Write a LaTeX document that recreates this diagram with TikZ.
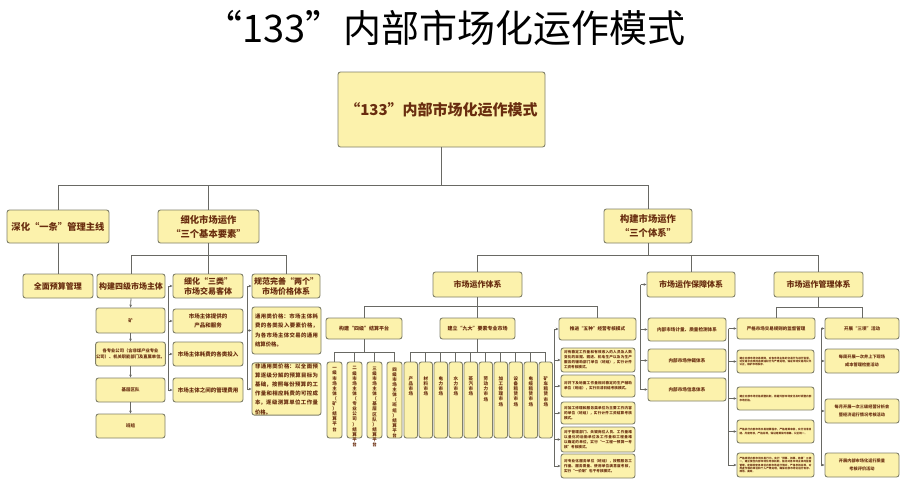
\documentclass[tikz,border=0pt]{standalone}
\usepackage{fontspec}
\setmainfont{Noto Sans CJK SC}
\usetikzlibrary{arrows.meta,calc}
\XeTeXlinebreaklocale "zh"
\XeTeXlinebreakskip=0pt plus 0.6pt
\definecolor{bf}{RGB}{252,242,172}
\definecolor{bd}{RGB}{128,128,105}
\definecolor{tc}{RGB}{105,45,15}
\definecolor{lc}{RGB}{105,105,100}
\makeatletter
\def\vt#1{\vt@first#1\@nil}
\def\vt@first#1{#1\vt@rest}
\def\vt@rest#1{\ifx#1\@nil\else\\#1\expandafter\vt@rest\fi}
\makeatother
\newcommand\fz[2]{\fontsize{#1}{#2}\selectfont}
% box by corners: [opts]{x1}{y1}{x2}{y2}{name}{text}
\newcommand\B[7][]{\node[bx,minimum width={(#4-#2)*1pt},minimum height={(#5-#3)*1pt},#1] (#6) at ({(#2+#4)/2},{(#3+#5)/2}) {#7};}
% vertical box: {x1}{width}{name}{text}{text top offset}
\newcommand\VB[5]{\node[bx,minimum width=#2pt,minimum height=76pt] (#3) at ({#1+#2/2},400) {};
  \node[text=tc,font=\bfseries\fz{4.5}{5.1},inner sep=0pt,align=center,anchor=north] at ($(#3.north)+(0,#5)$) {\vt{#4}};}
\begin{document}
\begin{tikzpicture}[x=1pt,y=-1pt,
  bx/.style={draw=bd,fill=bf,rounded corners=2.5pt,line width=0.9pt,text=tc,inner sep=0.5pt,align=center},
  ln/.style={draw=lc,line width=0.8pt},
  ar/.style={ln,-{Stealth[length=3pt,width=2.6pt]}},
  L1/.style={font=\bfseries\fz{9.3}{14}},
  L2/.style={font=\bfseries\fz{8}{10}},
  L3/.style={font=\bfseries\fz{5.5}{9}},
  P5/.style={font=\bfseries\fz{5.4}{9.6},align=justify},
  P36/.style={font=\bfseries\fz{3.6}{5},align=justify},
  P26/.style={font=\bfseries\fz{2.6}{3.4},align=justify}]
\useasboundingbox[fill=white] (0,0) rectangle (906,490);

\node[font=\fz{38}{40},text=black,inner sep=0pt] (title) at (445,28) {“133”内部市场化运作模式};

\B[font=\bfseries\fz{15}{18}]{338}{72}{545}{147}{root}{“133”内部市场化运作模式}

% level 1
\B[L1]{7}{210}{109}{243}{la}{深化“一条”管理主线}
\B[L1]{158}{210}{259}{243}{lb}{细化市场运作\\“三个基本要素”}
\B[L1]{604}{209}{692}{243}{lc}{构建市场运作\\“三个体系”}

% level 2
\B[L2]{23}{274}{93}{298}{qm}{全面预算管理}
\B[L2]{97}{274}{165}{298}{sj}{构建四级市场主体}
\B[L2]{173}{274}{243}{298}{sl}{细化“三类”\\市场交易客体}
\B[L2]{252}{274}{320}{298}{lg}{规范完善“两个”\\市场价格体系}
\B[L2]{433}{272}{522}{297}{yz}{市场运作体系}
\B[L2]{647}{272}{735}{297}{bz}{市场运作保障体系}
\B[L2]{774}{272}{863}{297}{gl}{市场运作管理体系}

% four-level chain
\B[font=\bfseries\fz{4.5}{6}]{96}{308}{165}{333}{k1}{矿}
\B[font=\bfseries\fz{4.3}{6.7}]{96}{342}{165}{366}{k2}{各专业公司（含非煤产业专业\\公司）、机关职能部门及直属单位。}
\B[font=\bfseries\fz{4.5}{6}]{96}{378}{165}{402}{k3}{基层区队}
\B[font=\bfseries\fz{4.5}{6}]{96}{414}{165}{438}{k4}{班组}

% three kinds
\B[L3]{173}{309}{243}{333}{s1}{市场主体提供的\\产品和服务}
\B[L3]{173}{342}{243}{366}{s2}{市场主体耗费的各类投入}
\B[L3]{173}{378}{243}{402}{s3}{市场主体之间的管理费用}

% two price systems
\B[P5,text width=63pt]{252}{307}{321}{354}{p1}{通用类价格：市场主体耗费的各类投入要素价格，为各市场主体交易的通用结算价格。}
\B[P5,text width=63pt,font=\bfseries\fz{5.4}{9.2}]{252}{365}{321}{413}{p2}{非通用类价格：以全面预算逐级分解的预算目标为基础，按照每份预算的工作量和相应耗费的可控成本，逐级测算单位工作量价格。}

% level 3 right
\B[font=\bfseries\fz{5}{6}]{326}{318}{402}{339}{sjpt}{构建“四级”结算平台}
\B[font=\bfseries\fz{5}{6}]{440}{318}{515}{339}{jd}{建立“九大”要素专业市场}
\B[font=\bfseries\fz{4.6}{6}]{559}{318}{636}{340}{wz}{推进“五种”经营考核模式}

% four settlement platforms
\VB{327}{15}{v1}{一级市场主体（矿）结算平台}{6}
\VB{347}{15}{v2}{二级市场主体（专业公司）结算平台}{5}
\VB{367}{15}{v3}{三级市场主体（基层区队）结算平台}{5}
\VB{387}{15}{v4}{四级市场主体（班组）结算平台}{6}

% nine markets
\VB{404}{13.5}{m1}{产品市场}{15}
\VB{419}{13.5}{m2}{材料市场}{15}
\VB{434}{13.5}{m3}{电力市场}{15}
\VB{449}{13.5}{m4}{水力市场}{15}
\VB{464}{13.5}{m5}{蒸汽市场}{15}
\VB{479}{13.5}{m6}{劳动力市场}{15}
\VB{494}{13.5}{m7}{加工修理市场}{15}
\VB{509}{13.5}{m8}{设备租赁市场}{15}
\VB{524}{13.5}{m9}{电缆租赁市场}{15}
\VB{539}{13.5}{m10}{矿车租赁市场}{15}

% five modes
\B[P36,text width=68pt]{561}{348}{635}{372}{w1}{对有稳定工作量和有效收入的人员及人数变化的采掘、掘进、机电生产以及为生产服务的辅助部门单位（班组），实行计件工资考核模式。}
\B[P36,text width=68pt]{561}{375}{635}{397}{w2}{对井下及地面工作量相对稳定的生产辅助单位（班组），实行日清日结考核模式。}
\B[P36,text width=68pt]{561}{402}{635}{424}{w3}{对加工修理和服务类单位为主要工作内容的单位（班组），实行计件工资结算考核模式。}
\B[P36,text width=68pt]{561}{427}{635}{452}{w4}{对于管理部门、关键岗位人员、工作量难以量化的后勤单位及工作量和工程量难以确定的单位，实行“一工程一预算一考核”考核模式。}
\B[P36,text width=68pt]{561}{454}{635}{478}{w5}{对专业化服务单位（班组），按照服务工作量、服务质量、使用单位满意度考核，实行“一价制”包干考核模式。}

% guarantee systems
\B[font=\bfseries\fz{4.6}{6}]{648}{318}{726}{341}{b1}{内部市场计量、质量检测体系}
\B[font=\bfseries\fz{4.6}{6}]{648}{349}{726}{372}{b2}{内部市场仲裁体系}
\B[font=\bfseries\fz{4.6}{6}]{648}{378}{726}{401}{b3}{内部市场信息体系}

% management
\B[font=\bfseries\fz{4.5}{6}]{737}{318}{815}{339}{yg}{严格市场交易规则的监督管理}
\B[font=\bfseries\fz{4.5}{6}]{825}{318}{899}{339}{kz}{开展“三项”活动}

\B[P26,text width=72pt]{737}{350}{814}{373}{g1}{建立内部市场交易规则，对各市场主体的交易行为进行监督，对交易中出现的违规违纪行为严肃处理，保证市场交易的公平公正，维护市场秩序。}
\B[P26,text width=72pt]{737}{387}{814}{410}{g2}{建立内部市场价格调整机制，根据外部市场变化及时调整内部市场价格。}
\B[P26,text width=72pt]{737}{420}{814}{443}{g3}{严格执行内部市场交易结算程序，严格结算审批，实行日清日结、月度考核，严格兑现，保证结算及时准确、公正统一。}
\B[P26,text width=72pt]{737}{453}{814}{477}{g4}{严格规范内部市场交易行为，实行“预算、核算、结算”三统一，建立健全内部市场化考核机制，强化对各市场主体的监督管理，定期检查各单位内部市场运行情况，严格考核兑现，对弄虚作假的单位和个人严肃处理，确保内部市场化运行有序、规范、高效。}

\B[font=\bfseries\fz{4.2}{8}]{825}{349}{899}{373}{a1}{每周开展一次井上下现场\\成本管理检查活动}
\B[font=\bfseries\fz{4.2}{8}]{825}{399}{899}{423}{a2}{每月开展一次三级经营分析会\\暨经济运行情况考核活动}
\B[font=\bfseries\fz{4.2}{8}]{825}{453}{899}{477}{a3}{开展内部市场化运行质量\\考核评价活动}

% ---- connectors ----
\draw[ln] (root.south) -- ++(0,38) coordinate (r1) -| (la.north);
\draw[ln] (r1) -| (lb.north);
\draw[ln] (r1) -| (lc.north);
\draw[ln] (la.south) -- (qm.north);
\draw[ln] (lb.south) -- ++(0,12) coordinate (r2) -| (sj.north);
\draw[ln] (r2) -| (sl.north);
\draw[ln] (r2) -| (lg.north);

\draw[ar] (sj.south) -- (k1.north);
\draw[ar] (k1.south) -- (k2.north);
\draw[ar] (k2.south) -- (k3.north);
\draw[ar] (k3.south) -- (k4.north);

\coordinate (slv) at ($(sl.west)+(-4,0)$);
\draw[ar] (slv) -- (sl.west);
\foreach \n in {s1,s2,s3} \draw[ar] (slv) |- (\n.west);
\coordinate (lgv) at ($(lg.west)+(-4,0)$);
\draw[ar] (lgv) -- (lg.west);
\foreach \n in {p1,p2} \draw[ar] (lgv) |- (\n.west);

\draw[ln] (lc.south) -- ++(0,12) coordinate (r3) -| (yz.north);
\draw[ln] (r3) -| (bz.north);
\draw[ln] (r3) -| (gl.north);

\draw[ln] (yz.south) -- ++(0,9) coordinate (r4) -| (sjpt.north);
\draw[ln] (r4) -| (jd.north);
\draw[ln] (r4) -| (wz.north);

\draw[ln] (sjpt.south) -- ++(0,13) coordinate (r5);
\foreach \n in {v1,v2,v3,v4} \draw[ln] (r5) -| (\n.north);
\draw[ln] (jd.south) -- ++(0,13) coordinate (r6);
\foreach \n in {m1,m2,m3,m4,m5,m6,m7,m8,m9,m10} \draw[ln] (r6) -| (\n.north);

\coordinate (wzv) at ($(wz.west)+(-4,0)$);
\draw[ar] (wzv) -- (wz.west);
\foreach \n in {w1,w2,w3,w4,w5} \draw[ar] (wzv) |- (\n.west);

\coordinate (bzv) at ($(bz.west)+(-6,0)$);
\draw[ar] (bzv) -- (bz.west);
\foreach \n in {b1,b2,b3} \draw[ar] (bzv) |- (\n.west);

\draw[ln] (gl.south) -- ++(0,10) coordinate (r7) -| (yg.north);
\draw[ln] (r7) -| (kz.north);

\coordinate (ygv) at ($(yg.west)+(-8,0)$);
\draw[ar] (ygv) -- (yg.west);
\foreach \n in {g1,g2,g3,g4} \draw[ar] (ygv) |- (\n.west);

\coordinate (kzv) at ($(kz.west)+(-3.5,0)$);
\draw[ar] (kzv) -- (kz.west);
\foreach \n in {a1,a2,a3} \draw[ar] (kzv) |- (\n.west);
\end{tikzpicture}
\end{document}
